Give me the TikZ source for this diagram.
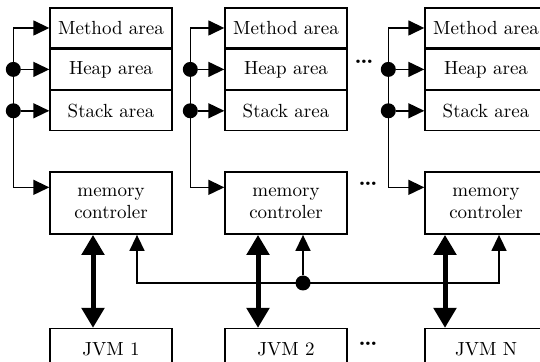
\documentclass[tikz,border=0pt]{standalone}
\usetikzlibrary{positioning,calc,arrows.meta}
\begin{document}
\begin{tikzpicture}[x=0.5pt, y=-0.5pt, font=\fontsize{9.5pt}{11pt}\selectfont,
  area/.style = {draw, line width=0.7pt, minimum width=61pt, minimum height=20pt, inner sep=0pt},
  ctrl/.style = {area, minimum height=31pt, align=center},
  jvm/.style = {area, minimum height=20.5pt},
  bus/.style = {line width=0.75pt, -{Triangle[length=8pt,width=7.5pt]}},
  link/.style = {line width=2.5pt, {Triangle[length=10pt,width=11pt]}-{Triangle[length=10pt,width=11pt]}},
  dot/.style = {circle, fill, inner sep=0pt, minimum size=7.5pt},
  etc/.style = {font=\large\bfseries}]
\clip (0,0) rectangle (540,362);
% memory areas
\node[area] (m1) at (111,28) {Method area};
\node[area] (h1) [below=0pt of m1] {Heap area};
\node[area] (s1) [below=0pt of h1] {Stack area};
\node[area] (m2) at (286,28) {Method area};
\node[area] (h2) [below=0pt of m2] {Heap area};
\node[area] (s2) [below=0pt of h2] {Stack area};
\node[area] (m3) at (486,28) {Method area};
\node[area] (h3) [below=0pt of m3] {Heap area};
\node[area] (s3) [below=0pt of h3] {Stack area};
% controllers and JVMs
\node[ctrl] (c1) [below=20pt of s1] {memory\\controler};
\node[ctrl] (c2) [below=20pt of s2] {memory\\controler};
\node[ctrl] (c3) [below=20pt of s3] {memory\\controler};
\node[jvm] (j1) [below=46.5pt of c1] {JVM 1};
\node[jvm] (j2) [below=46.5pt of c2] {JVM 2};
\node[jvm] (j3) [below=46.5pt of c3] {JVM N};
\node[etc] (e1) at (364,62) {\dots};
\node[etc] (e2) at (368,184) {\dots};
\node[etc] (e3) at (368,344) {\dots};
% buses to the areas
\coordinate (b1) at ([xshift=-18pt]m1.west);
\coordinate (b2) at ([xshift=-17pt]m2.west);
\coordinate (b3) at ([xshift=-18pt]m3.west);
\draw[bus] (b1) |- ($(c1.north west)!0.25!(c1.south west)$);
\draw[bus] (b2) |- ($(c2.north west)!0.25!(c2.south west)$);
\draw[bus] (b3) |- ($(c3.north west)!0.25!(c3.south west)$);
\draw[bus] (b1) -- (m1.west);
\draw[bus] (b2) -- (m2.west);
\draw[bus] (b3) -- (m3.west);
\node[dot] (d1h) at (b1 |- h1.west) {};
\node[dot] (d1s) at (b1 |- s1.west) {};
\node[dot] (d2h) at (b2 |- h2.west) {};
\node[dot] (d2s) at (b2 |- s2.west) {};
\node[dot] (d3h) at (b3 |- h3.west) {};
\node[dot] (d3s) at (b3 |- s3.west) {};
\draw[bus] (d1h) -- (h1.west);
\draw[bus] (d1s) -- (s1.west);
\draw[bus] (d2h) -- (h2.west);
\draw[bus] (d2s) -- (s2.west);
\draw[bus] (d3h) -- (h3.west);
\draw[bus] (d3s) -- (s3.west);
% controller to JVM
\draw[link] ([xshift=-9pt]c1.south) -- ([xshift=-9pt]j1.north);
\draw[link] ([xshift=-14pt]c2.south) -- ([xshift=-14pt]j2.north);
\draw[link] ([xshift=-20.5pt]c3.south) -- ([xshift=-20.5pt]j3.north);
% feedback line
\coordinate (r) at (0,283);
\coordinate (f1) at ([xshift=13pt]c1.south);
\coordinate (f2) at ([xshift=8.5pt]c2.south);
\coordinate (f3) at ([xshift=6.5pt]c3.south);
\draw[line width=0.75pt, {Triangle[length=8pt,width=7.5pt]}-{Triangle[length=8pt,width=7.5pt]}] (f1) |- (f3 |- r) -- (f3);
\node[dot] (d2) at (f2 |- r) {};
\draw[bus] (d2) -- (f2);
\end{tikzpicture}
\end{document}
